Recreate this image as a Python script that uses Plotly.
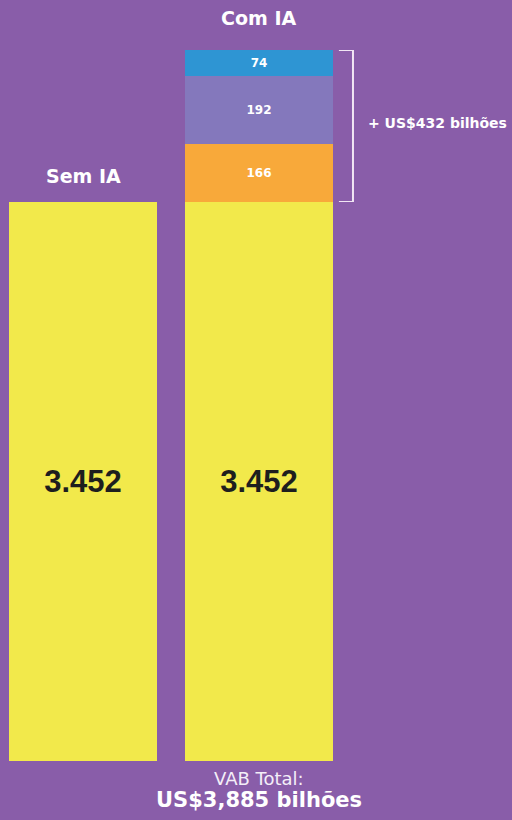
import plotly.graph_objects as go

# ---- data ----
categories = ["Sem IA", "Com IA"]
base_values = [3452, 3452]
increment_labels = ["166", "192", "74"]
increment_values = [166, 192, 74]
increment_colors = ["#F8A93A", "#8478BC", "#2E95D3"]
increment_total = 432
vab_total = 3885

BG = "#895DA9"
YELLOW = "#F2E94B"
HFONT = "DejaVu Sans, Arial, sans-serif"
NFONT = "Liberation Sans, Arial, sans-serif"

fig = go.Figure()

def fmt_pt(v):
    return f"{v:,}".replace(",", ".")

# base bars
fig.add_trace(go.Bar(
    x=categories, y=base_values,
    marker=dict(color=YELLOW, line=dict(width=0)),
    width=0.843,
    text=[fmt_pt(v) for v in base_values],
    textposition="inside", insidetextanchor="middle",
    textfont=dict(family=NFONT, size=31, color="#1E1E1E", weight="bold"),
    textangle=0,
    xaxis="x", yaxis="y", showlegend=False, hoverinfo="skip",
))

# increment stack on a second (broken) axis
for lab, val, col in zip(increment_labels, increment_values, increment_colors):
    fig.add_trace(go.Bar(
        x=[categories[1]], y=[val],
        marker=dict(color=col, line=dict(width=0)),
        width=0.843,
        text=[lab], textposition="inside", insidetextanchor="middle",
        textfont=dict(family=HFONT, size=12, color="white", weight="bold"),
        textangle=0,
        xaxis="x", yaxis="y2", showlegend=False, hoverinfo="skip",
    ))

H = 820
def dom(px):
    return (H - px) / H

fig.update_layout(
    width=512, height=H,
    margin=dict(l=0, r=0, t=0, b=0),
    paper_bgcolor=BG, plot_bgcolor=BG,
    barmode="stack",
    bargap=0,
    xaxis=dict(range=[-0.473, 2.444], visible=False, fixedrange=True),
    yaxis=dict(domain=[dom(761), dom(202)], range=[0, base_values[1]], visible=False),
    yaxis2=dict(domain=[dom(202), dom(50)], range=[0, increment_total], visible=False, anchor="x"),
)

# category titles
fig.add_annotation(x=categories[0], y=base_values[0], xref="x", yref="y",
                   text="<b>Sem IA</b>", showarrow=False, yanchor="middle", yshift=26,
                   font=dict(family=HFONT, size=19, color="white"))
fig.add_annotation(x=categories[1], y=increment_total, xref="x", yref="y2",
                   text="<b>Com IA</b>", showarrow=False, yanchor="middle", yshift=32,
                   font=dict(family=HFONT, size=19, color="white"))

# bracket
bx0, bx1 = 1.458, 1.538
fig.add_shape(type="path", xref="x", yref="y2",
              path=f"M {bx0} {increment_total} L {bx1} {increment_total} L {bx1} 0 L {bx0} 0",
              line=dict(color="#F1E6F4", width=2))
fig.add_annotation(x=1.615, y=increment_total * 0.52, xref="x", yref="y2",
                   text=f"<b>+ US${increment_total} bilhões</b>", showarrow=False,
                   xanchor="left", yanchor="middle",
                   font=dict(family=HFONT, size=14, color="white"))

# total label
fig.add_annotation(x=categories[1], y=0, xref="x", yref="y",
                   text="VAB Total:", showarrow=False, yanchor="middle", yshift=-17,
                   font=dict(family=HFONT, size=18, color="#F4EEF8"))
fig.add_annotation(x=categories[1], y=0, xref="x", yref="y",
                   text=f"<b>US${vab_total:,} bilhões</b>", showarrow=False,
                   yanchor="middle", yshift=-39,
                   font=dict(family=HFONT, size=21, color="white"))

fig.write_html("out.html",
               config={"displayModeBar": False},
               post_script="document.body.style.margin='0';document.documentElement.style.overflow='hidden';")
